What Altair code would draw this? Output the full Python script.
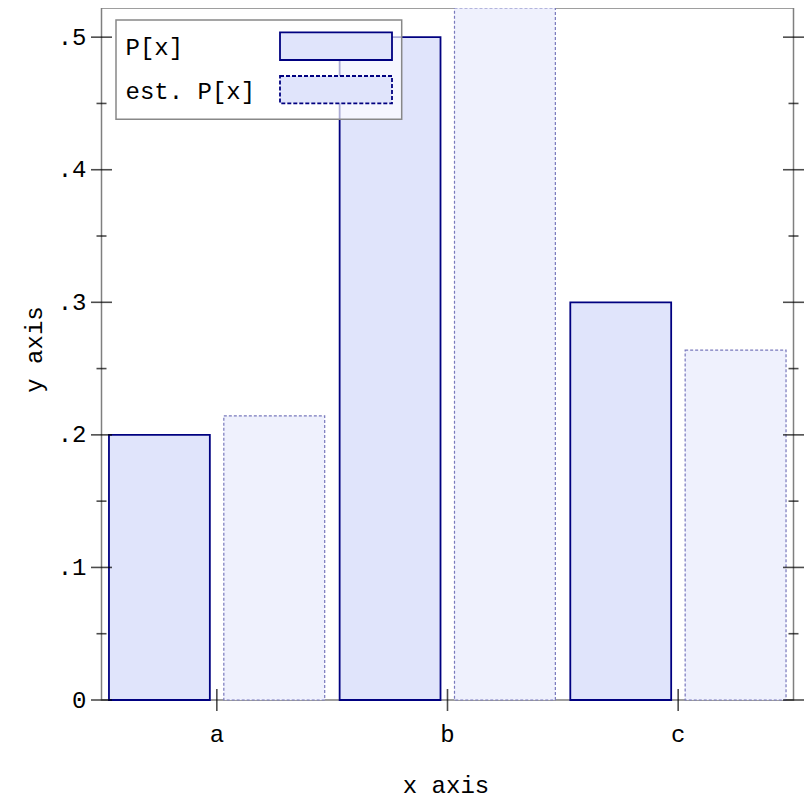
import altair as alt
import pandas as pd

CATEGORIES = ["a", "b", "c"]
SERIES = ["P[x]", "est. P[x]"]
P_VALUES = [0.2, 0.5, 0.3]
EST_VALUES = [0.2143, 0.5220, 0.2639]
Y_TICKS = [0.0, 0.1, 0.2, 0.3, 0.4, 0.5]
Y_MINOR = [0.05, 0.15, 0.25, 0.35, 0.45]

FONT = "Liberation Mono"
FS = 24
W, H = 692, 692

rows = []
for c, p, e in zip(CATEGORIES, P_VALUES, EST_VALUES):
    rows.append({"cat": c, "series": SERIES[0], "value": p})
    rows.append({"cat": c, "series": SERIES[1], "value": e})
df = pd.DataFrame(rows)

xscale = alt.Scale(domain=CATEGORIES, paddingInner=0, paddingOuter=0)
yscale = alt.Scale(zero=True, nice=False)

x_axis = alt.Axis(title="x axis", ticks=False, tickSize=0, domain=False, grid=False,
                  labelAngle=0, labelFont=FONT, labelFontSize=FS, labelColor="black",
                  labelBaseline="alphabetic", labelPadding=41,
                  titleFont=FONT, titleFontSize=FS, titleFontWeight="normal",
                  titleColor="black", titleX=344, titleY=92, titleAlign="center",
                  titleBaseline="alphabetic")
y_axis = alt.Axis(title="y axis", values=Y_TICKS, ticks=False, tickSize=0, domain=False,
                  grid=False, labelFont=FONT, labelFontSize=FS, labelColor="black",
                  labelPadding=15.5, labelAlign="right", labelBaseline="middle",
                  labelExpr="datum.value == 0 ? '0' : replace(format(datum.value, '.1f'), '0.', '.')",
                  titleFont=FONT, titleFontSize=FS, titleFontWeight="normal",
                  titleColor="black", titleX=-60, titleY=341, titleAngle=270,
                  titleAlign="center", titleBaseline="alphabetic")

is_p = alt.datum.series == SERIES[0]

bars = alt.Chart(df).mark_bar().encode(
    x=alt.X("cat:N", scale=xscale, sort=CATEGORIES, axis=x_axis),
    xOffset=alt.XOffset("series:N", sort=SERIES,
                        scale=alt.Scale(domain=SERIES, paddingInner=0.1217, paddingOuter=0.065)),
    y=alt.Y("value:Q", scale=yscale, axis=y_axis),
    fill=alt.condition(is_p, alt.value("#e0e4fb"), alt.value("#eff1fd")),
    stroke=alt.condition(is_p, alt.value("#000080"), alt.value("#7878bc")),
    strokeWidth=alt.condition(is_p, alt.value(1.8), alt.value(1.2)),
    strokeDash=alt.condition(is_p, alt.value([1, 0]), alt.value([3, 2])),
)

major = pd.DataFrame({"value": Y_TICKS})
minor = pd.DataFrame({"value": Y_MINOR})
cats = pd.DataFrame({"cat": CATEGORIES})

def ytick(data, xpos, size):
    return alt.Chart(data).mark_tick(orient="horizontal", color="black", thickness=1.6, size=size).encode(
        y=alt.Y("value:Q", scale=yscale, axis=y_axis),
        x=alt.value(xpos),
    )

left_major = ytick(major, 0, 21)
left_minor = ytick(minor, 0, 10)
right_major = ytick(major, W, 21)
right_minor = ytick(minor, W, 10)

xticks = alt.Chart(cats).mark_tick(orient="vertical", color="black", thickness=1.6, size=22).encode(
    x=alt.X("cat:N", scale=xscale, sort=CATEGORIES, axis=x_axis),
    y=alt.value(H),
)

one = pd.DataFrame({"k": [0]})
legend_box = alt.Chart(one).mark_rect(fill="white", fillOpacity=0.67, stroke="#888888", strokeWidth=1.5).encode(
    x=alt.value(14.5), x2=alt.value(300.2), y=alt.value(12), y2=alt.value(111.3)
)
sw_p = alt.Chart(one).mark_rect(fill="#e0e4fb", stroke="#000080", strokeWidth=1.8).encode(
    x=alt.value(178.5), x2=alt.value(290.5), y=alt.value(24.3), y2=alt.value(52)
)
sw_e = alt.Chart(one).mark_rect(fill="#e0e4fb", stroke="#000080", strokeWidth=1.8, strokeDash=[4, 2]).encode(
    x=alt.value(178.5), x2=alt.value(290.5), y=alt.value(68), y2=alt.value(95.3)
)
lab_p = alt.Chart(pd.DataFrame({"label": [SERIES[0]]})).mark_text(
    font=FONT, fontSize=FS, color="black", align="left", baseline="alphabetic"
).encode(text="label:N", x=alt.value(24), y=alt.value(47))
lab_e = alt.Chart(pd.DataFrame({"label": [SERIES[1]]})).mark_text(
    font=FONT, fontSize=FS, color="black", align="left", baseline="alphabetic"
).encode(text="label:N", x=alt.value(24), y=alt.value(91))

chart = alt.layer(
    bars, left_major, left_minor, right_major, right_minor, xticks,
    legend_box, sw_p, sw_e, lab_p, lab_e
).properties(
    width=W, height=H,
    autosize=alt.AutoSizeParams(type="none"),
    padding={"left": 93.5, "top": 0, "right": 10.5, "bottom": 104},
    background="white",
).configure_view(stroke="#7f7f7f", strokeWidth=1.5)

chart.save("out.html", embed_options={"renderer": "svg", "actions": False})
